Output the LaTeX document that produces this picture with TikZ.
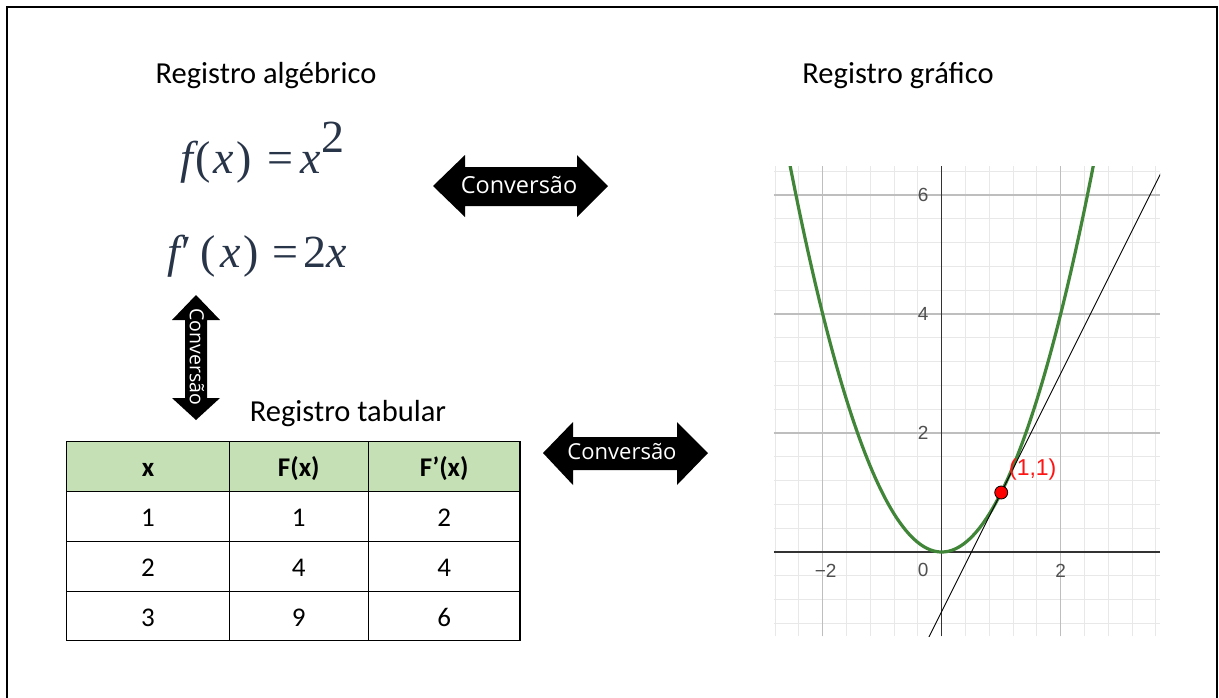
\documentclass[tikz,border=0pt]{standalone}
\usepackage{fontspec}
\newfontfamily\calfont{Carlito}
\newfontfamily\osfont{Open Sans}
\newfontfamily\lsfont{Liberation Sans}
\newfontfamily\lserfont{Liberation Serif}
\definecolor{hdrgreen}{RGB}{197,224,180}
\definecolor{formcol}{RGB}{40,52,72}
\definecolor{ggbgreen}{RGB}{64,133,56}
\definecolor{minorgrid}{RGB}{232,232,232}
\definecolor{majorgrid}{RGB}{190,190,190}
\definecolor{ticklab}{RGB}{80,80,80}
\definecolor{ptred}{RGB}{255,20,20}
\tikzset{
  title/.style={font=\calfont\fontsize{30.5}{36}\selectfont, inner sep=0pt, anchor=base},
  cell/.style={font=\calfont\fontsize{27}{32}\selectfont, inner sep=0pt, anchor=base},
  hcell/.style={cell, font=\calfont\bfseries\fontsize{27}{32}\selectfont},
  formula/.style={font=\lserfont\fontsize{46}{46}\selectfont, text=formcol, inner sep=0pt, anchor=base west},
  convarrow/.style={fill=black, draw=none},
  convtext/.style={text=white, inner sep=0pt, anchor=center},
  tick/.style={font=\lsfont\fontsize{19}{22}\selectfont, text=ticklab, inner sep=0pt, anchor=center},
  tblline/.style={line width=1.5pt, draw=black}
}
\begin{document}
\begin{tikzpicture}[x=1pt,y=-1pt]
\useasboundingbox (0,0) rectangle (1219,697);
\fill[white] (0,0) rectangle (1219,697);
\draw[line width=2pt] (7,705) -- (7,7) -- (1217,7) -- (1217,705);

% titles
\node[title] (ta) at (266,83) {Registro algébrico};
\node[title] (tg) at (898,83) {Registro gráfico};
\node[title] (tt) at (348,421.7) {Registro tabular};

% formulas
\node[formula] (f1) at (180,173) {\itshape f\hspace{3pt}\upshape(\hspace{2pt}\itshape x\hspace{3pt}\upshape)\hspace{15pt}=\hspace{8pt}\itshape x\upshape\raisebox{21pt}{2}};
\node[formula] (f2) at (167,267) {\itshape f\hspace{2pt}\upshape′\hspace{8pt}(\hspace{5pt}\itshape x\hspace{3pt}\upshape)\hspace{13pt}=\hspace{5pt}2\itshape x};

% conversion arrows
\fill[convarrow] (433,186) -- (465,155) -- (465,167) -- (577,167) -- (577,155) -- (608,186) -- (577,217) -- (577,206) -- (465,206) -- (465,217) -- cycle;
\node[convtext, font=\osfont\fontsize{23.5}{26}\selectfont] (c1) at (519,185) {Conversão};

\fill[convarrow] (543,453) -- (573,422) -- (573,437) -- (677,437) -- (677,422) -- (708,453) -- (677,485) -- (677,470) -- (573,470) -- (573,485) -- cycle;
\node[convtext, font=\osfont\fontsize{22}{24}\selectfont] (c2) at (622,452) {Conversão};

\fill[convarrow] (196,295) -- (220,320) -- (207,320) -- (207,398) -- (220,398) -- (196,420) -- (172,398) -- (185,398) -- (185,320) -- (172,320) -- cycle;
\node[convtext, rotate=-90, font=\osfont\fontsize{19.5}{22}\selectfont] (c3) at (197,357) {Conversão};

% table
\fill[hdrgreen] (66.7,441.7) rectangle (520,491.7);
\draw[tblline] (66.7,441.7) rectangle (520,640.7);
\foreach \yy in {491.7,541.7,591.7} \draw[tblline] (66.7,\yy) -- (520,\yy);
\draw[tblline] (229.3,441.7) -- (229.3,640.7);
\draw[tblline] (368.3,441.7) -- (368.3,640.7);
\node[hcell] (h1) at (148,476.7) {x};
\node[hcell] (h2) at (298.8,476.7) {F(x)};
\node[hcell] (h3) at (444.2,476.7) {F’(x)};
\node[cell] (a1) at (148,526.7) {1};
\node[cell] (b1) at (298.8,526.7) {1};
\node[cell] (c1c) at (444.2,526.7) {2};
\node[cell] (a2) at (148,576.7) {2};
\node[cell] (b2) at (298.8,576.7) {4};
\node[cell] (c2c) at (444.2,576.7) {4};
\node[cell] (a3) at (148,626.7) {3};
\node[cell] (b3) at (298.8,626.7) {9};
\node[cell] (c3c) at (444.2,626.7) {6};

% graph
\begin{scope}[shift={(941.7pt,-552pt)}, x=59.5pt, y=59.5pt]
  \begin{scope}
    \clip (-2.82,-1.42) rectangle (3.67,6.48);
    \foreach \i in {-7,...,9} \draw[minorgrid, line width=1pt] (\i*0.4,-1.42) -- (\i*0.4,6.48);
    \foreach \j in {-3,...,16} \draw[minorgrid, line width=1pt] (-2.82,\j*0.4) -- (3.67,\j*0.4);
    \foreach \i in {-2,2} \draw[majorgrid, line width=1.2pt] (\i,-1.42) -- (\i,6.48);
    \foreach \j in {2,4,6} \draw[majorgrid, line width=1.2pt] (-2.82,\j) -- (3.67,\j);
    \draw[black!80, line width=1.2pt] (0,-1.42) -- (0,6.48);
    \draw[black!80, line width=1.2pt] (-2.82,0) -- (3.67,0);
    \draw[ggbgreen, line width=3.2pt] plot[variable=\t, domain=-2.6:2.6, samples=120] (\t,{\t*\t});
    \draw[black, line width=0.9pt] (-0.3,-1.6) -- (3.8,6.6);
  \end{scope}
  \node[tick] (y6) at (-0.31,6) {6};
  \node[tick] (y4) at (-0.31,4) {4};
  \node[tick] (y2) at (-0.31,2) {2};
  \node[tick] (xm2) at (-1.95,-0.31) {−2};
  \node[tick] (x0) at (-0.31,-0.31) {0};
  \node[tick] (x2) at (2,-0.31) {2};
  \node[circle, fill=red, draw=black, line width=0.8pt, minimum size=13pt, inner sep=0pt] (p) at (1,1) {};
  \node[font=\lsfont\fontsize{23}{25}\selectfont, text=ptred, inner sep=0pt] (pl) at (1.53,1.38) {(1,1)};
\end{scope}
\end{tikzpicture}
\end{document}
